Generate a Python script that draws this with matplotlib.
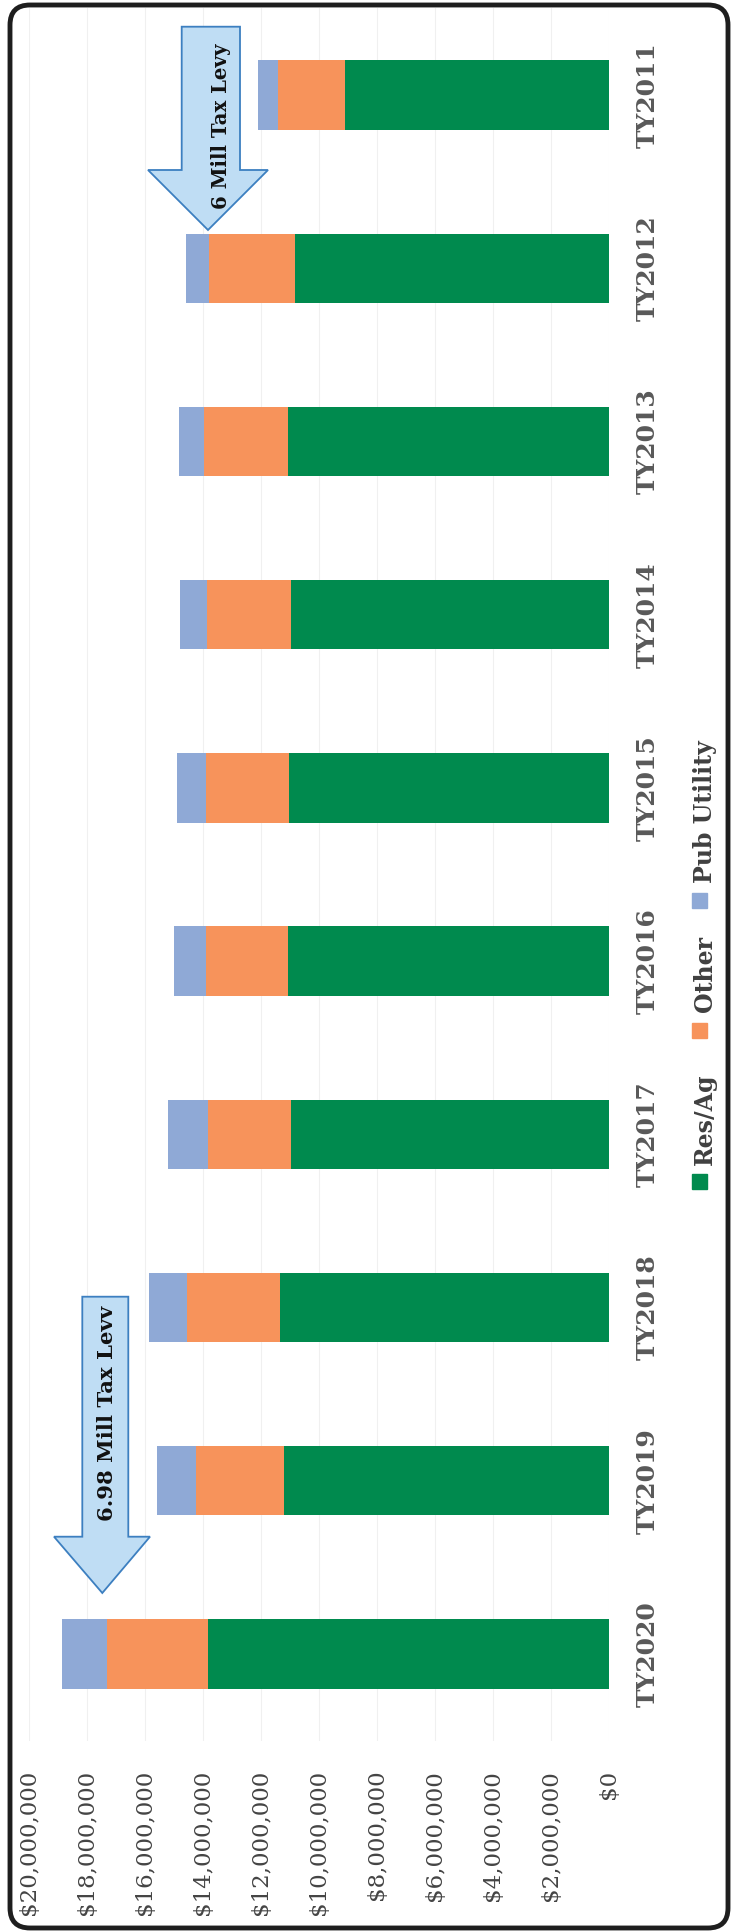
import numpy as np
import matplotlib
matplotlib.use('Agg')
import matplotlib.pyplot as plt
from matplotlib.patches import Polygon, Rectangle, FancyBboxPatch
from matplotlib.transforms import IdentityTransform

# levy by class, dollars (bottom of chart first)
years = ['TY2020', 'TY2019', 'TY2018', 'TY2017', 'TY2016',
         'TY2015', 'TY2014', 'TY2013', 'TY2012', 'TY2011']
res_ag = [13840000, 11220000, 11350000, 10960000, 11060000,
          11040000, 10980000, 11060000, 10830000, 9100000]
other = [3480000, 3030000, 3210000, 2870000, 2830000,
         2850000, 2880000, 2900000, 2960000, 2300000]
pub_utility = [1540000, 1340000, 1300000, 1380000, 1100000,
               1000000, 920000, 860000, 780000, 700000]

series = ['Res/Ag', 'Other', 'Pub Utility']
colors = ['#008A4E', '#F7935B', '#8FA9D6']
value_ticks = [0, 2000000, 4000000, 6000000, 8000000, 10000000,
               12000000, 14000000, 16000000, 18000000, 20000000]

W, H = 736, 1932
plt.rcParams['font.family'] = 'DejaVu Serif'
fig = plt.figure(figsize=(W / 100, H / 100), dpi=100)
pix = IdentityTransform()


def up(y):
    # image rows run downward, display pixels run upward
    return H - y


# plot area
ax = fig.add_axes([29 / W, (H - 1740.6) / H, 580 / W, 1732.2 / H])

y = np.arange(len(years))
res_ag = np.array(res_ag)
other = np.array(other)
pub_utility = np.array(pub_utility)
ax.barh(y, res_ag, height=0.4, color=colors[0], zorder=2)
ax.barh(y, other, left=res_ag, height=0.4, color=colors[1], zorder=2)
ax.barh(y, pub_utility, left=res_ag + other, height=0.4, color=colors[2], zorder=2)

ax.set_xlim(20000000, 0)
ax.set_ylim(-0.5, len(years) - 0.5)
ax.set_xticks(value_ticks)
ax.set_xticklabels(['${:,.0f}'.format(v) for v in value_ticks],
                   rotation=90, ha='center', va='top')
ax.tick_params(axis='x', length=0, pad=21, labelsize=16.5, labelcolor='#444444')
ax.xaxis.grid(True, color='#F0F0F0', lw=0.8, zorder=0)
ax.set_axisbelow(True)

ax.yaxis.tick_right()
ax.set_yticks(y)
ax.set_yticklabels(years, rotation=90, va='center', ha='left',
                   fontweight='bold', fontsize=18, color='#595959')
ax.tick_params(axis='y', length=0, pad=19)
for s in ax.spines.values():
    s.set_visible(False)

# legend down the right edge
leg_sq = [1181, 1030, 900]
leg_txt = [1165, 1012, 883]
for name, c, sq, ty in zip(series, colors, leg_sq, leg_txt):
    fig.patches.append(Rectangle((692, up(sq) - 7.5), 15, 15, color=c,
                                 transform=pix, figure=fig))
    fig.text(705, up(ty), name, rotation=90, ha='center', va='bottom',
             fontsize=17, fontweight='bold', color='#404040', transform=pix)


# levy callout arrows
def down_arrow(x0, x1, top, neck, hx0, hx1, tip):
    pts = [(x0, top), (x1, top), (x1, neck), (hx1, neck), tip,
           (hx0, neck), (x0, neck)]
    pts = [(px, up(py)) for px, py in pts]
    fig.patches.append(Polygon(pts, closed=True, fc='#BFDDF4', ec='#3C7FC0',
                               lw=1.3, transform=pix, figure=fig))


down_arrow(181.7, 240, 26.7, 170, 148, 268, (208, 230))
fig.text(221, up(126), '6 Mill Tax Levy', rotation=90, ha='center', va='center',
         fontsize=14.2, fontweight='bold', color='#111111', transform=pix)

down_arrow(82.3, 128.3, 1296.7, 1536.7, 54, 150, (102.3, 1593))
fig.text(107, up(1413), '6.98 Mill Tax Levv', rotation=90, ha='center', va='center',
         fontsize=15.3, fontweight='bold', color='#111111', transform=pix)

# rounded outer border
fig.patches.append(FancyBboxPatch((10, up(1928)), 718, 1923, fill=False,
                                  boxstyle='round,pad=0,rounding_size=20',
                                  ec='#1E1E1E', lw=3.5, transform=pix, figure=fig))

fig.savefig('out.png', dpi=100, facecolor='white')
